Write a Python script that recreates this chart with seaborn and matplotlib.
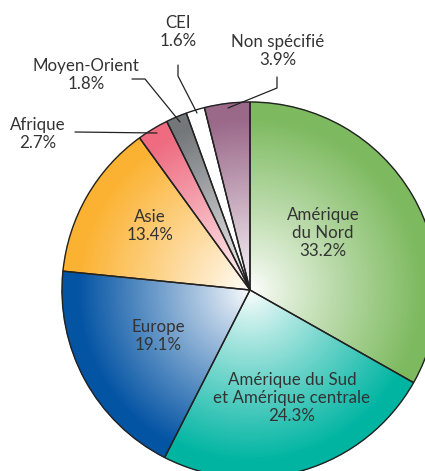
import numpy as np
import seaborn as sns
import matplotlib.pyplot as plt
from matplotlib.colors import to_rgb

# data
regions = ["Amérique\ndu Nord", "Amérique du Sud\net Amérique centrale", "Europe",
           "Asie", "Afrique", "Moyen-Orient", "CEI", "Non spécifié"]
shares = [33.2, 24.3, 19.1, 13.4, 2.7, 1.8, 1.6, 3.9]
edge_colors = ["#7dba5f", "#00b4a2", "#0454a4", "#fbb232", "#ee6b80",
               "#74777a", "#ffffff", "#9a6889"]

sns.set_theme(style="white")
plt.rcParams['font.family'] = ['Lato', 'DejaVu Sans']

H = 471
fig = plt.figure(figsize=(4.25, 4.71), dpi=100)
ax = fig.add_axes([0, 0, 1, 1])

def py(y):
    # pixel row from top -> data y
    return H - y

cx, cy, R = 250, py(290), 188
white = np.array([1.0, 1.0, 1.0])
base = [np.array(to_rgb(c)) for c in edge_colors]

# radial gradient: stacked pies from outside in
n = 70
for k in range(n, 0, -1):
    t = min(1.0, (k / n) / 0.92) ** 0.9
    cols = [tuple(white * (1 - t) + b * t) for b in base]
    wedges, _ = ax.pie(shares, colors=cols, radius=R * k / n, center=(cx, cy),
                       startangle=90, counterclock=False,
                       wedgeprops=dict(linewidth=0.6), frame=True)
    for w, c in zip(wedges, cols):
        w.set_edgecolor(c)

# outlines
ax.pie(shares, radius=R, center=(cx, cy), startangle=90, counterclock=False,
       wedgeprops=dict(facecolor="none", edgecolor="#222222", linewidth=1.0),
       frame=True)
ax.set_xlim(0, 425)
ax.set_ylim(0, H)
ax.set_aspect("equal")
ax.axis("off")

txt = dict(ha="center", va="center", fontsize=12.2, color="#333333",
           linespacing=1.15)
inside = {0: (323, 233), 1: (292, 398), 2: (158, 336), 3: (150, 226)}
for i, (x, y) in inside.items():
    ax.text(x, py(y), f"{regions[i]}\n{shares[i]}%", **txt)

outside = {4: (38, 134), 5: (86, 75), 6: (178, 32), 7: (278, 51)}
for i, (x, y) in outside.items():
    ax.text(x, py(y), f"{regions[i]}\n{shares[i]}%", **txt)

lc = dict(color="#222222", linewidth=0.9)
ax.plot([75, 157], [py(132), py(133)], **lc)
ax.plot([132, 145, 180], [py(79), py(79), py(122)], **lc)
ax.plot([178, 178, 197], [py(65), py(76), py(113)], **lc)
ax.plot([277, 277, 228], [py(77), py(88), py(108)], **lc)

fig.savefig("out.png", dpi=100)
